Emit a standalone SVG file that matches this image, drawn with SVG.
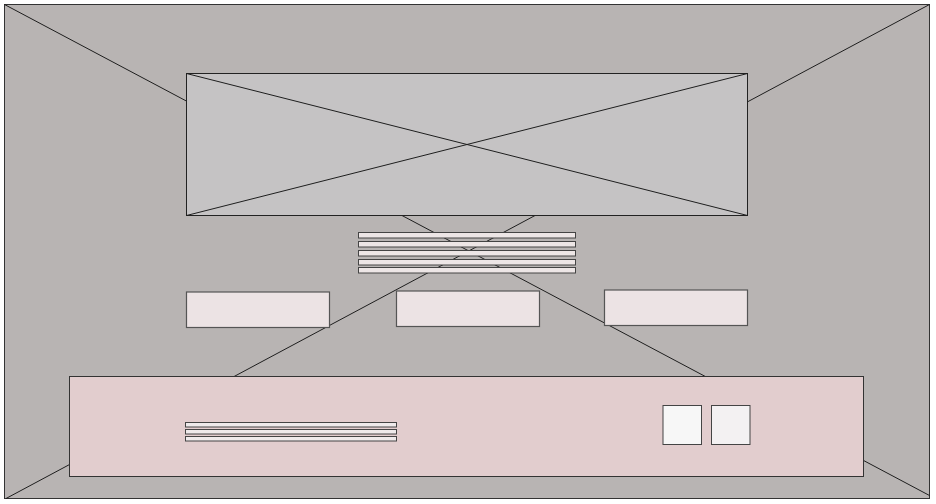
<svg xmlns="http://www.w3.org/2000/svg" width="936" height="504" viewBox="0 0 936 504">
<style>
.ln{stroke:#1e1e1e;stroke-width:1;fill:none}
.box{fill:#ece3e4;stroke:#555;stroke-width:1.2}
.bar{fill:#ede6e6;stroke:#444;stroke-width:1}
.bbar{fill:#efeaeb;stroke:#444;stroke-width:1}
.sq{stroke:#444;stroke-width:1}
</style>
<g id="frame">
<rect x="4.5" y="4.5" width="925" height="494" fill="#b8b4b3" stroke="#333" stroke-width="1"/>
</g>
<g id="connectors">
<line class="ln" x1="4.5" y1="4.5" x2="929.5" y2="495.5"/>
<line class="ln" x1="929.5" y1="4.5" x2="6" y2="498.5"/>
</g>
<g id="header">
<rect x="186.5" y="73.5" width="561" height="142" fill="#c5c3c4" stroke="#222" stroke-width="1"/>
<line class="ln" x1="186.5" y1="73.5" x2="747.5" y2="215.5"/>
<line class="ln" x1="747.5" y1="73.5" x2="186.5" y2="215.5"/>
</g>
<g id="menu">
<rect class="bar" x="358.5" y="232.5" width="217" height="5.5"/>
<rect class="bar" x="358.5" y="241.5" width="217" height="5.5"/>
<rect class="bar" x="358.5" y="250.5" width="217" height="5.5"/>
<rect class="bar" x="358.5" y="259.5" width="217" height="5.5"/>
<rect class="bar" x="358.5" y="267.5" width="217" height="5.5"/>
</g>
<g id="box-left"><rect class="box" x="186.5" y="292" width="143" height="35.5"/></g>
<g id="box-middle"><rect class="box" x="396.5" y="291" width="143" height="35.5"/></g>
<g id="box-right"><rect class="box" x="604.5" y="290" width="143" height="35.5"/></g>
<g id="footer">
<rect x="69.5" y="376.5" width="794" height="100" fill="#e2cdce" stroke="#333" stroke-width="1"/>
</g>
<g id="footer-lines">
<rect class="bbar" x="185.5" y="422.5" width="211" height="4.5"/>
<rect class="bbar" x="185.5" y="429.5" width="211" height="4.5"/>
<rect class="bbar" x="185.5" y="436.5" width="211" height="4.5"/>
</g>
<g id="square-1"><rect class="sq" x="663" y="405.5" width="38.5" height="39" fill="#f7f7f7"/></g>
<g id="square-2"><rect class="sq" x="711.5" y="405.5" width="38.5" height="39" fill="#f3f1f2"/></g>
</svg>
